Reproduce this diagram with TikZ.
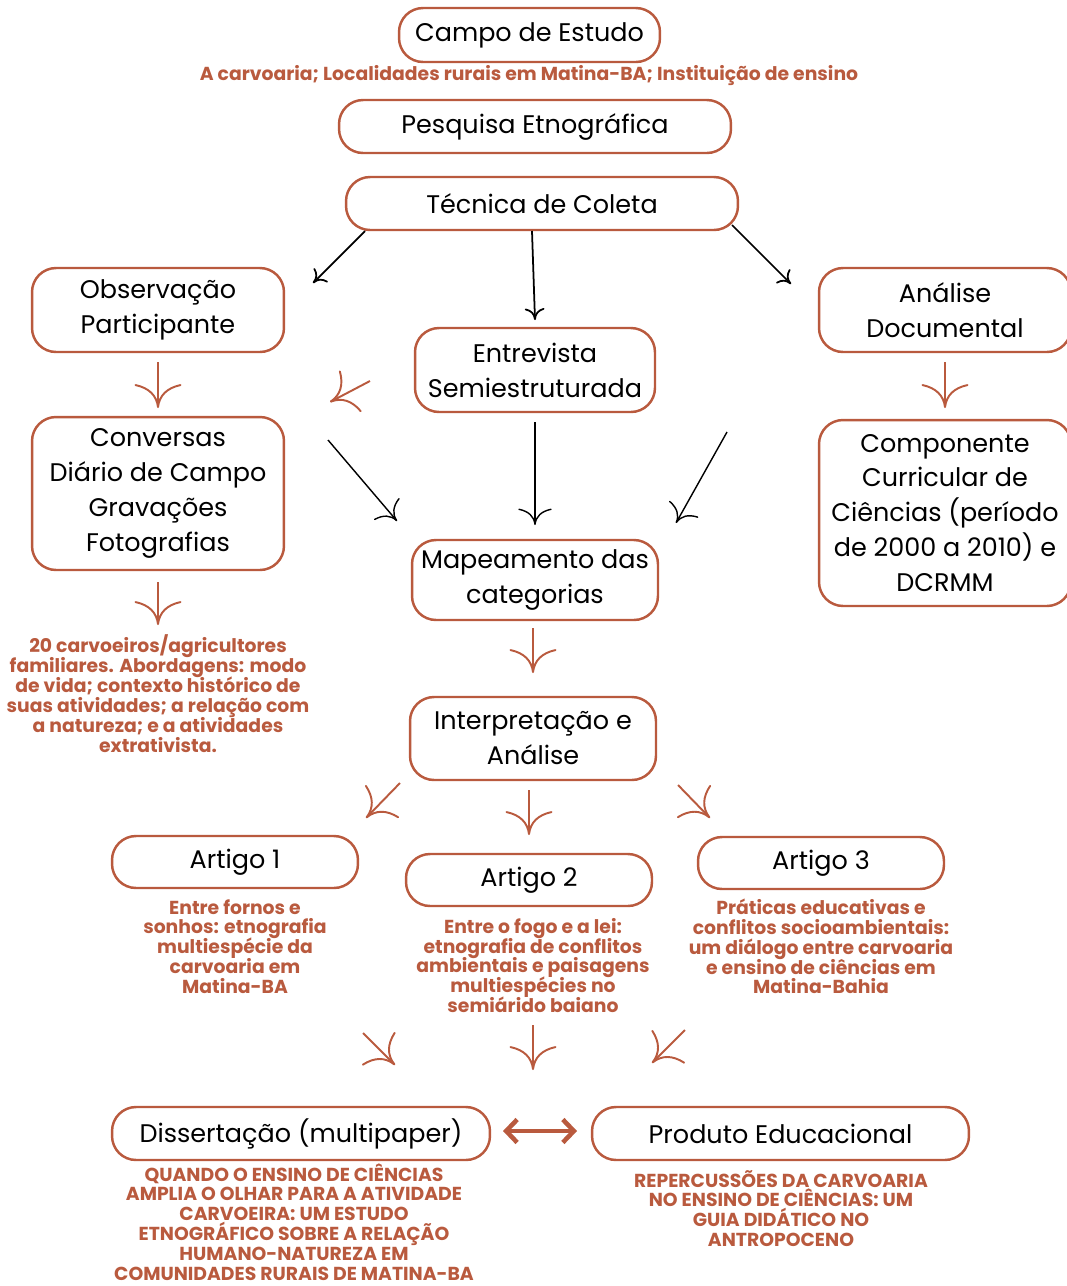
\documentclass[tikz,border=0pt]{standalone}
\usepackage{fontspec}
\setmainfont{Poppins}
\usetikzlibrary{arrows.meta}
\definecolor{ferrugem}{RGB}{185,90,62}
\setlength{\lineskiplimit}{-10pt}

\pgfdeclarearrow{
  name = Flare,
  parameters = {\the\pgfarrowlength,\the\pgfarrowwidth},
  setup code = {
    \pgfarrowssettipend{.5\pgflinewidth}
    \pgfarrowssetlineend{0pt}
    \pgfarrowshullpoint{0pt}{0pt}
    \pgfarrowshullpoint{-\pgfarrowlength}{.5\pgfarrowwidth}
    \pgfarrowshullpoint{-\pgfarrowlength}{-.5\pgfarrowwidth}
    \pgfarrowssavethe\pgfarrowlength
    \pgfarrowssavethe\pgfarrowwidth
  },
  drawing code = {
    \pgfsetdash{}{0pt}
    \pgfsetroundcap
    \pgfsetroundjoin
    \pgfpathmoveto{\pgfqpoint{-\pgfarrowlength}{.5\pgfarrowwidth}}
    \pgfpathquadraticcurveto{\pgfqpoint{-.8\pgfarrowlength}{.05\pgfarrowwidth}}{\pgfqpoint{0pt}{0pt}}
    \pgfpathquadraticcurveto{\pgfqpoint{-.8\pgfarrowlength}{-.05\pgfarrowwidth}}{\pgfqpoint{-\pgfarrowlength}{-.5\pgfarrowwidth}}
    \pgfusepathqstroke
  },
  defaults = {length = 3mm, width = 6mm}
}

\begin{document}
\begin{tikzpicture}[x=0.02cm,y=-0.02cm,
    caixa/.style={draw=ferrugem,line width=1.4pt,rounded corners=0.48cm,align=center,
      font=\fontsize{14.5}{19.9}\selectfont,inner sep=0pt},
    nota/.style={text=ferrugem,align=center,inner sep=0pt,
      font=\fontsize{10.7}{11.3}\selectfont\bfseries},
    seta/.style={-{Flare[length=0.44cm,width=0.9cm]},ferrugem,line width=1.1pt},
    setap/.style={-{Flare[length=0.2cm,width=0.36cm]},black,line width=1pt},
    setam/.style={-{Flare[length=0.3cm,width=0.64cm]},black,line width=0.8pt}]
    \useasboundingbox (0,0) rectangle (1067,1286);

    % caixas
    \node[caixa,minimum width=5.22cm,minimum height=1.08cm] (campo) at (529.5,35) {Campo de Estudo};
    \node[nota] (local) at (529,76) {A carvoaria; Localidades rurais em Matina-BA; Instituição de ensino};
    \node[caixa,minimum width=7.84cm,minimum height=1.06cm] (pesquisa) at (535,126.5) {Pesquisa Etnográfica};
    \node[caixa,minimum width=7.84cm,minimum height=1.06cm] (tecnica) at (542,203.5) {Técnica de Coleta};
    \node[caixa,minimum width=5.04cm,minimum height=1.68cm] (obs) at (158,310) {Observação\\Participante};
    \node[caixa,minimum width=4.8cm,minimum height=1.68cm] (entrevista) at (535,370) {Entrevista\\Semiestruturada};
    \node[caixa,minimum width=5.04cm,minimum height=1.68cm] (analise) at (945,310) {Análise\\Documental};
    \node[caixa,minimum width=5.04cm,minimum height=3.06cm] (conversas) at (158,493.5) {Conversas\\Diário de Campo\\Gravações\\Fotografias};
    \node[caixa,minimum width=4.92cm,minimum height=1.6cm] (mapa) at (535,580) {Mapeamento das\\categorias};
    \node[caixa,minimum width=5.04cm,minimum height=3.72cm] (componente) at (945,513) {Componente\\Curricular de\\Ciências (período\\de 2000 a 2010) e\\DCRMM};
    \node[nota] (carvoeiros) at (158,693.5) {20 carvoeiros/agricultores\\familiares. Abordagens: modo\\de vida; contexto histórico de\\suas atividades; a relação com\\a natureza; e a atividades\\extrativista.};
    \node[caixa,minimum width=4.92cm,minimum height=1.66cm] (interp) at (533,738.5) {Interpretação e\\Análise};

    \node[caixa,minimum width=4.92cm,minimum height=1.04cm] (art1) at (235,862) {Artigo 1};
    \node[caixa,minimum width=4.92cm,minimum height=1.04cm] (art2) at (529,880) {Artigo 2};
    \node[caixa,minimum width=4.92cm,minimum height=1.04cm] (art3) at (821,863) {Artigo 3};
    \node[nota] (tit1) at (235,946.5) {Entre fornos e\\sonhos: etnografia\\multiespécie da\\carvoaria em\\Matina-BA};
    \node[nota] (tit2) at (533,965.5) {Entre o fogo e a lei:\\etnografia de conflitos\\ambientais e paisagens\\multiespécies no\\semiárido baiano};
    \node[nota] (tit3) at (821,946.5) {Práticas educativas e\\conflitos socioambientais:\\um diálogo entre carvoaria\\e ensino de ciências em\\Matina-Bahia};

    \node[caixa,minimum width=7.56cm,minimum height=1.06cm] (diss) at (301,1133.5) {Dissertação (multipaper)};
    \node[caixa,minimum width=7.54cm,minimum height=1.06cm] (produto) at (780.5,1133.5) {Produto Educacional};
    \node[nota] (titdiss) at (294,1222) {QUANDO O ENSINO DE CIÊNCIAS\\AMPLIA O OLHAR PARA A ATIVIDADE\\CARVOEIRA: UM ESTUDO\\ETNOGRÁFICO SOBRE A RELAÇÃO\\HUMANO-NATUREZA EM\\COMUNIDADES RURAIS DE MATINA-BA};
    \node[nota] (titprod) at (781,1208.5) {REPERCUSSÕES DA CARVOARIA\\NO ENSINO DE CIÊNCIAS: UM\\GUIA DIDÁTICO NO\\ANTROPOCENO};

    % pontas das setas
    \coordinate (b1a) at (365,231); \coordinate (b1b) at (313,283);
    \coordinate (b2a) at (532,231); \coordinate (b2b) at (535,320);
    \coordinate (b3a) at (732,225); \coordinate (b3b) at (791,284);
    \coordinate (b4a) at (328,440); \coordinate (b4b) at (397,521);
    \coordinate (b5a) at (535,422); \coordinate (b5b) at (535,525);
    \coordinate (b6a) at (727,432); \coordinate (b6b) at (676,523);
    \coordinate (r1a) at (158,362); \coordinate (r1b) at (158,408);
    \coordinate (r2a) at (945,362); \coordinate (r2b) at (945,408);
    \coordinate (r3a) at (370,381); \coordinate (r3b) at (330,402);
    \coordinate (r4a) at (158,582); \coordinate (r4b) at (158,625);
    \coordinate (r5a) at (533,628); \coordinate (r5b) at (533,673);
    \coordinate (r6a) at (400,783); \coordinate (r6b) at (366,818);
    \coordinate (r7a) at (529,790); \coordinate (r7b) at (529,835);
    \coordinate (r8a) at (678,785); \coordinate (r8b) at (710,818);
    \coordinate (r9a) at (363,1033); \coordinate (r9b) at (395,1065);
    \coordinate (r10a) at (533,1025); \coordinate (r10b) at (533,1070);
    \coordinate (r11a) at (685,1030); \coordinate (r11b) at (652,1063);
    \coordinate (da) at (503,1131); \coordinate (db) at (577,1131);

    % setas
    \foreach \s in {b1,b2,b3}
        \draw[setap] (\s a) -- (\s b);
    \foreach \s in {b4,b5,b6}
        \draw[setam] (\s a) -- (\s b);
    \foreach \s in {r1,r2,r3,r4,r5,r6,r7,r8,r9,r10,r11}
        \draw[seta] (\s a) -- (\s b);
    \draw[{Straight Barb[length=0.22cm,width=0.46cm]}-{Straight Barb[length=0.22cm,width=0.46cm]},
        ferrugem,line width=2.6pt] (da) -- (db);
\end{tikzpicture}
\end{document}
